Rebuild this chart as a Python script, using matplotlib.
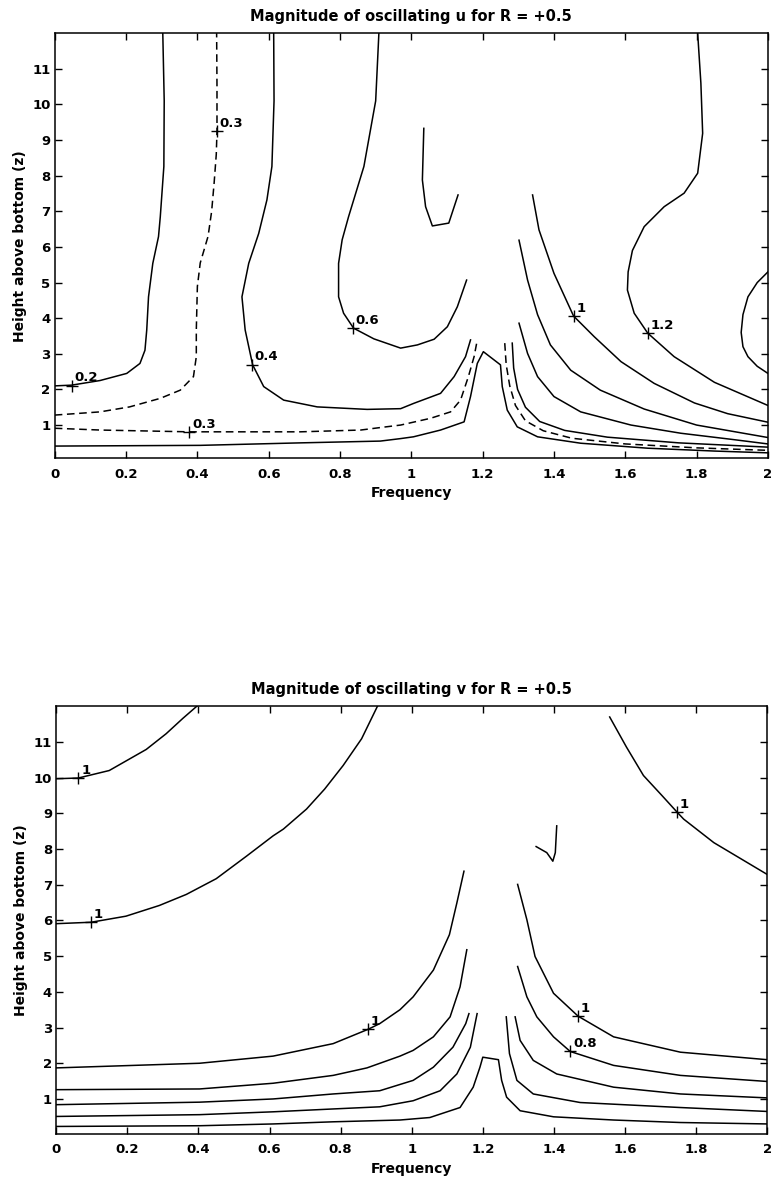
import matplotlib
matplotlib.use("Agg")
import matplotlib.pyplot as plt

# contour traces of |u|, frequency vs height above bottom
u_020_f = [0, 0.047, 0.127, 0.202, 0.239, 0.253, 0.258, 0.263, 0.275, 0.291, 0.296, 0.306, 0.307, 0.303]
u_020_z = [2.1, 2.12, 2.25, 2.45, 2.73, 3.1, 3.67, 4.6, 5.54, 6.29, 6.85, 8.26, 10.1, 12.0]
u_030a_f = [0, 0.127, 0.21, 0.296, 0.352, 0.389, 0.397, 0.397, 0.4, 0.408, 0.43, 0.44, 0.447, 0.453, 0.455, 0.455, 0.454]
u_030a_z = [1.28, 1.37, 1.51, 1.75, 1.98, 2.36, 2.92, 3.67, 4.89, 5.55, 6.3, 7.0, 7.8, 8.6, 9.25, 10.5, 12.0]
u_030b_f = [0, 0.127, 0.377, 0.689, 0.858, 0.913, 0.97, 1.054, 1.11, 1.138, 1.16, 1.176, 1.185]
u_030b_z = [0.91, 0.86, 0.81, 0.81, 0.86, 0.93, 1.0, 1.19, 1.37, 1.70, 2.36, 2.92, 3.39]
u_030c_f = [1.262, 1.266, 1.276, 1.292, 1.32, 1.37, 1.45, 1.6, 1.8, 2.0]
u_030c_z = [3.3, 2.7, 2.1, 1.55, 1.12, 0.84, 0.63, 0.47, 0.36, 0.29]
u_base_f = [0, 0.408, 0.689, 0.913, 0.97, 1.006, 1.082, 1.148, 1.166, 1.185, 1.202,
            1.25, 1.255, 1.269, 1.297, 1.354, 1.475, 1.663, 1.85, 2.0]
u_base_z = [0.41, 0.43, 0.5, 0.55, 0.62, 0.67, 0.86, 1.09, 1.80, 2.73, 3.06,
            2.69, 2.08, 1.42, 0.95, 0.67, 0.49, 0.35, 0.27, 0.22]
u_040_f = [0.614, 0.615, 0.609, 0.595, 0.572, 0.544, 0.525, 0.534, 0.555, 0.586, 0.642, 0.736,
           0.876, 0.97, 1.007, 1.082, 1.12, 1.152, 1.166]
u_040_z = [12.0, 10.1, 8.26, 7.32, 6.38, 5.54, 4.6, 3.67, 2.69, 2.08, 1.70, 1.51,
           1.44, 1.46, 1.61, 1.89, 2.36, 2.92, 3.39]
u_040r_f = [1.283, 1.287, 1.298, 1.32, 1.36, 1.43, 1.55, 1.75, 2.0]
u_040r_z = [3.3, 2.6, 2.0, 1.5, 1.1, 0.85, 0.66, 0.5, 0.38]
u_060_f = [0.909, 0.9, 0.867, 0.824, 0.806, 0.796, 0.796, 0.81, 0.838, 0.895, 0.97, 1.017, 1.064, 1.101, 1.129, 1.155]
u_060_z = [12.0, 10.1, 8.26, 6.85, 6.2, 5.54, 4.6, 4.14, 3.72, 3.42, 3.16, 3.25, 3.41, 3.76, 4.32, 5.07]
u_060r_f = [1.302, 1.326, 1.354, 1.4, 1.475, 1.616, 1.756, 1.897, 2.0]
u_060r_z = [3.86, 3.01, 2.36, 1.80, 1.37, 1.0, 0.77, 0.6, 0.47]
u_hook_f = [1.035, 1.031, 1.04, 1.059, 1.105, 1.131]
u_hook_z = [9.33, 7.88, 7.13, 6.59, 6.67, 7.46]
u_080_f = [1.302, 1.326, 1.354, 1.39, 1.447, 1.53, 1.653, 1.8, 2.0]
u_080_z = [6.19, 5.07, 4.1, 3.25, 2.54, 1.98, 1.45, 1.0, 0.65]
u_100_f = [1.34, 1.358, 1.4, 1.455, 1.513, 1.588, 1.681, 1.794, 1.887, 2.0]
u_100_z = [7.46, 6.48, 5.26, 4.06, 3.48, 2.78, 2.17, 1.62, 1.32, 1.08]
u_120_f = [1.803, 1.812, 1.817, 1.803, 1.765, 1.709, 1.653, 1.62, 1.608, 1.606, 1.625, 1.663, 1.737, 1.85, 2.0]
u_120_z = [12.0, 10.6, 9.19, 8.07, 7.51, 7.13, 6.57, 5.9, 5.3, 4.79, 4.14, 3.58, 2.92, 2.2, 1.55]
u_140_f = [2.0, 1.97, 1.944, 1.93, 1.925, 1.93, 1.944, 1.97, 2.0]
u_140_z = [5.3, 5.0, 4.6, 4.1, 3.6, 3.2, 2.92, 2.65, 2.45]

u_label_f = [0.047, 0.455, 0.377, 0.553, 0.836, 1.455, 1.663]
u_label_z = [2.1, 9.25, 0.8, 2.7, 3.72, 4.06, 3.58]
u_label_txt = ["0.2", "0.3", "0.3", "0.4", "0.6", "1", "1.2"]

# contour traces of |v|
v_a_f = [0, 0.403, 0.61, 0.779, 0.967, 1.051, 1.136, 1.173, 1.192, 1.2,
         1.244, 1.253, 1.267, 1.305, 1.399, 1.568, 1.756, 2.0]
v_a_z = [0.23, 0.25, 0.3, 0.36, 0.41, 0.48, 0.76, 1.33, 1.89, 2.17,
         2.1, 1.52, 1.05, 0.67, 0.5, 0.41, 0.34, 0.3]
v_b_f = [0, 0.403, 0.61, 0.779, 0.91, 1.004, 1.08, 1.127, 1.165, 1.184]
v_b_z = [0.51, 0.56, 0.64, 0.72, 0.78, 0.95, 1.23, 1.7, 2.45, 3.39]
v_c_f = [0, 0.403, 0.61, 0.779, 0.91, 1.004, 1.061, 1.116, 1.152, 1.161]
v_c_z = [0.84, 0.91, 1.0, 1.14, 1.23, 1.52, 1.89, 2.45, 3.11, 3.39]
v_d_f = [0, 0.403, 0.61, 0.779, 0.874, 0.967, 1.004, 1.061, 1.108, 1.136, 1.155]
v_d_z = [1.26, 1.28, 1.44, 1.66, 1.87, 2.2, 2.36, 2.74, 3.3, 4.14, 5.18]
v_e_f = [0, 0.403, 0.61, 0.779, 0.877, 0.91, 0.967, 1.004, 1.061, 1.106, 1.127, 1.147]
v_e_z = [1.87, 2.0, 2.2, 2.55, 2.95, 3.11, 3.5, 3.86, 4.61, 5.6, 6.49, 7.38]
v_r1_f = [1.298, 1.324, 1.347, 1.399, 1.468, 1.568, 1.756, 2.0]
v_r1_z = [7.01, 6.02, 4.99, 3.96, 3.32, 2.74, 2.31, 2.1]
v_r2_f = [1.298, 1.324, 1.352, 1.399, 1.446, 1.568, 1.756, 2.0]
v_r2_z = [4.71, 3.86, 3.3, 2.74, 2.33, 1.94, 1.66, 1.49]
v_r3_f = [1.291, 1.305, 1.342, 1.408, 1.568, 1.756, 2.0]
v_r3_z = [3.3, 2.64, 2.08, 1.7, 1.33, 1.14, 1.03]
v_r4_f = [1.266, 1.275, 1.296, 1.342, 1.474, 1.756, 2.0]
v_r4_z = [3.3, 2.27, 1.52, 1.14, 0.9, 0.76, 0.65]
v_t1_f = [0, 0.062, 0.149, 0.253, 0.309, 0.356, 0.401]
v_t1_z = [9.97, 9.99, 10.2, 10.79, 11.23, 11.66, 12.05]
v_t2_f = [0, 0.098, 0.196, 0.29, 0.366, 0.45, 0.535, 0.61, 0.639, 0.704, 0.755, 0.807, 0.859, 0.906]
v_t2_z = [5.91, 5.95, 6.12, 6.42, 6.73, 7.17, 7.8, 8.37, 8.56, 9.12, 9.68, 10.34, 11.09, 12.05]
v_t3_f = [1.557, 1.604, 1.652, 1.704, 1.747, 1.765, 1.85, 2.0]
v_t3_z = [11.7, 10.86, 10.06, 9.5, 9.03, 8.84, 8.18, 7.29]
v_hook_f = [1.35, 1.38, 1.397, 1.404, 1.408]
v_hook_z = [8.07, 7.9, 7.66, 7.9, 8.65]

v_label_f = [0.062, 0.098, 0.877, 1.468, 1.446, 1.747]
v_label_z = [9.99, 5.95, 2.95, 3.32, 2.33, 9.03]
v_label_txt = ["1", "1", "1", "1", "0.8", "1"]

x_ticks = [0, 0.2, 0.4, 0.6, 0.8, 1, 1.2, 1.4, 1.6, 1.8, 2]
x_ticklabels = ["0", "0.2", "0.4", "0.6", "0.8", "1", "1.2", "1.4", "1.6", "1.8", "2"]
y_ticks = [1, 2, 3, 4, 5, 6, 7, 8, 9, 10, 11]

SOLID = "-"
DASHED = (0, (5, 3))

plt.rcParams['font.family'] = ['DejaVu Sans']
plt.rcParams['font.weight'] = 'bold'


def setup(ax, title, ymin):
    ax.set_xlim(0, 2)
    ax.set_ylim(ymin, 12)
    ax.set_xticks(x_ticks)
    ax.set_xticklabels(x_ticklabels)
    ax.set_yticks(y_ticks)
    ax.tick_params(axis='x', pad=7)
    ax.tick_params(axis='y', pad=3)
    ax.tick_params(direction='in', length=5, width=1, top=True, right=True,
                   labelsize=9.5)
    for sp in ax.spines.values():
        sp.set_linewidth(1.1)
    ax.set_title(title, fontsize=10.5, fontweight='bold', pad=9)
    ax.set_xlabel("Frequency", fontsize=10, fontweight='bold', labelpad=4)
    ax.set_ylabel("Height above bottom (z)", fontsize=10, fontweight='bold', labelpad=4)


def draw(ax, curves, lab_f, lab_z, lab_txt):
    for f, z, ls in curves:
        ax.plot(f, z, color='black', lw=1.1, linestyle=ls)
    ax.plot(lab_f, lab_z, linestyle='none', marker='+', color='black', ms=8, mew=1.0)
    for f, z, t in zip(lab_f, lab_z, lab_txt):
        ax.annotate(t, (f, z), xytext=(2, 1), textcoords='offset points',
                    ha='left', va='bottom', fontsize=9.5, fontweight='bold')


fig = plt.figure(figsize=(7.71, 11.87), dpi=100)
ax1 = fig.add_axes([0.071, 0.614, 0.925, 0.358])
ax2 = fig.add_axes([0.073, 0.045, 0.922, 0.360])

u_curves = [
    (u_020_f, u_020_z, SOLID),
    (u_030a_f, u_030a_z, DASHED),
    (u_030b_f, u_030b_z, DASHED),
    (u_030c_f, u_030c_z, DASHED),
    (u_base_f, u_base_z, SOLID),
    (u_040_f, u_040_z, SOLID),
    (u_040r_f, u_040r_z, SOLID),
    (u_060_f, u_060_z, SOLID),
    (u_060r_f, u_060r_z, SOLID),
    (u_hook_f, u_hook_z, SOLID),
    (u_080_f, u_080_z, SOLID),
    (u_100_f, u_100_z, SOLID),
    (u_120_f, u_120_z, SOLID),
    (u_140_f, u_140_z, SOLID),
]
v_curves = [
    (v_a_f, v_a_z, SOLID),
    (v_b_f, v_b_z, SOLID),
    (v_c_f, v_c_z, SOLID),
    (v_d_f, v_d_z, SOLID),
    (v_e_f, v_e_z, SOLID),
    (v_r1_f, v_r1_z, SOLID),
    (v_r2_f, v_r2_z, SOLID),
    (v_r3_f, v_r3_z, SOLID),
    (v_r4_f, v_r4_z, SOLID),
    (v_t1_f, v_t1_z, SOLID),
    (v_t2_f, v_t2_z, SOLID),
    (v_t3_f, v_t3_z, SOLID),
    (v_hook_f, v_hook_z, SOLID),
]

setup(ax1, "Magnitude of oscillating u for R = +0.5", 0.07)
draw(ax1, u_curves, u_label_f, u_label_z, u_label_txt)
setup(ax2, "Magnitude of oscillating v for R = +0.5", 0.03)
draw(ax2, v_curves, v_label_f, v_label_z, v_label_txt)

fig.savefig("out.png", dpi=100)
